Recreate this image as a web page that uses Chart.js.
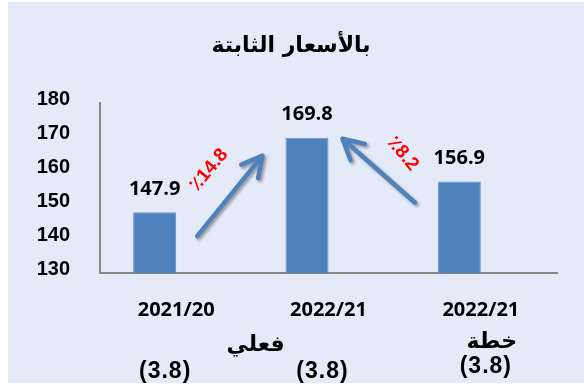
<!DOCTYPE html>
<html>
<head>
<meta charset="utf-8">
<script src="https://cdn.jsdelivr.net/npm/chart.js@4"></script>
<style>
  html, body { margin: 0; padding: 0; background: #fff; }
  #wrap { width: 584px; height: 385px; }
</style>
</head>
<body>
<div id="wrap"><canvas id="myChart" width="584" height="385"></canvas></div>
<script>
// values at constant prices
const categories = ['2021/20', '2022/21', '2022/21'];
const values = [147.9, 169.8, 156.9];
const notes = ['', 'فعلي', 'خطة'];
const shares = ['(3.8)', '(3.8)', '(3.8)'];
const changes = ['٪14.8', '٪8.2'];
const yMin = 130, yMax = 180, yStep = 10;
const title = 'بالأسعار الثابتة';

const blue = '#4F81BD';
const panel = '#E4EAF7';

// light panel behind the whole chart, plus the heading
const backdrop = {
    id: 'backdrop',
    beforeDraw(chart) {
        const c = chart.ctx;
        c.save();
        c.fillStyle = '#fff';
        c.fillRect(0, 0, chart.width, chart.height);
        c.fillStyle = panel;
        c.fillRect(8, 2, chart.width - 8, chart.height - 4);
        c.fillStyle = '#000';
        c.font = 'bold 22px "DejaVu Sans"';
        c.textAlign = 'center';
        c.textBaseline = 'middle';
        c.fillText(title, 291, 46);
        c.restore();
    }
};

function arrow(c, x1, y1, x2, y2) {
    const ang = Math.atan2(y1 - y2, x1 - x2);
    const arm = 23, spread = 28 * Math.PI / 180;
    c.save();
    c.strokeStyle = blue;
    c.lineWidth = 4.5;
    c.lineCap = 'round';
    c.lineJoin = 'round';
    c.shadowColor = 'rgba(0,0,0,0.35)';
    c.shadowBlur = 3;
    c.shadowOffsetX = 2;
    c.shadowOffsetY = 2;
    c.beginPath();
    c.moveTo(x1, y1);
    c.lineTo(x2, y2);
    c.moveTo(x2 + arm * Math.cos(ang - spread), y2 + arm * Math.sin(ang - spread));
    c.lineTo(x2, y2);
    c.lineTo(x2 + arm * Math.cos(ang + spread), y2 + arm * Math.sin(ang + spread));
    c.stroke();
    c.restore();
}

function rotatedText(c, text, x, y, deg) {
    c.save();
    c.translate(x, y);
    c.rotate(deg * Math.PI / 180);
    c.fillText(text, 0, 0);
    c.restore();
}

// value labels, growth arrows and the captions under the axis
const annotations = {
    id: 'annotations',
    afterDatasetsDraw(chart) {
        const c = chart.ctx;
        const bars = chart.getDatasetMeta(0).data;
        const x = chart.scales.x;
        const bottom = chart.chartArea.bottom;
        c.save();
        c.textAlign = 'center';
        c.textBaseline = 'middle';

        c.fillStyle = '#000';
        c.font = 'bold 20px "Open Sans"';
        bars.forEach((b, i) => c.fillText(values[i].toFixed(1), b.x, b.y - 23));

        const [b0, b1, b2] = bars;
        const a1 = [b0.x + b0.width / 2 + 21, b0.y + 24, b1.x - b1.width / 2 - 23, b1.y + 18];
        const a2 = [b2.x - b2.width / 2 - 23, b2.y + 21, b1.x + b1.width / 2 + 14, b1.y + 1];
        arrow(c, ...a1);
        arrow(c, ...a2);

        c.fillStyle = '#FF0000';
        c.font = 'bold 19px "Liberation Sans", "DejaVu Sans"';
        rotatedText(c, changes[0], (a1[0] + a1[2]) / 2 - 21, (a1[1] + a1[3]) / 2 - 26, -50);
        rotatedText(c, changes[1], (a2[0] + a2[2]) / 2 + 24, (a2[1] + a2[3]) / 2 - 17, 50);

        c.fillStyle = '#000';
        c.font = 'bold 22px "DejaVu Sans"';
        const noteAt = [null, [-73, 72], [11, 69]];
        notes.forEach((t, i) => {
            if (t) c.fillText(t, x.getPixelForValue(i) + noteAt[i][0], bottom + noteAt[i][1]);
        });
        c.font = 'bold 23px "Liberation Sans"';
        c.letterSpacing = '1px';
        const shareAt = [[-11, 99], [-6, 99], [5, 94]];
        shares.forEach((t, i) => c.fillText(t, x.getPixelForValue(i) + shareAt[i][0], bottom + shareAt[i][1]));
        c.restore();
    }
};

const config = {
    type: 'bar',
    data: {
        labels: categories,
        datasets: [
            {
                data: values,
                backgroundColor: blue,
                borderColor: '#6B93C7',
                borderWidth: 1,
                barPercentage: 1,
                categoryPercentage: 0.565,
            },
            // empty second series keeps the bars left of the category centre
            {
                data: [],
                barPercentage: 1,
                categoryPercentage: 0.565,
            },
        ]
    },
    options: {
        responsive: false,
        animation: false,
        layout: { padding: { left: 0, right: 27, top: 103, bottom: 0 } },
        plugins: {
            legend: { display: false },
            tooltip: { enabled: false },
        },
        scales: {
            x: {
                grid: { display: false, drawTicks: false },
                border: { color: '#878787', width: 2 },
                ticks: {
                    color: '#000',
                    padding: 25,
                    maxRotation: 0,
                    font: { family: '"Open Sans"', size: 20, weight: 'bold' },
                },
                afterFit: s => { s.height = 112; },
            },
            y: {
                min: yMin,
                max: yMax,
                grid: { display: false, drawTicks: false },
                border: { color: '#878787', width: 2 },
                ticks: {
                    stepSize: yStep,
                    color: '#000',
                    padding: 30,
                    labelOffset: -4,
                    font: { family: '"Liberation Sans"', size: 20, weight: 'bold' },
                },
                afterFit: s => { s.width = 100; },
            },
        }
    },
    plugins: [backdrop, annotations],
};

new Chart(document.getElementById('myChart'), config);
</script>
</body>
</html>
